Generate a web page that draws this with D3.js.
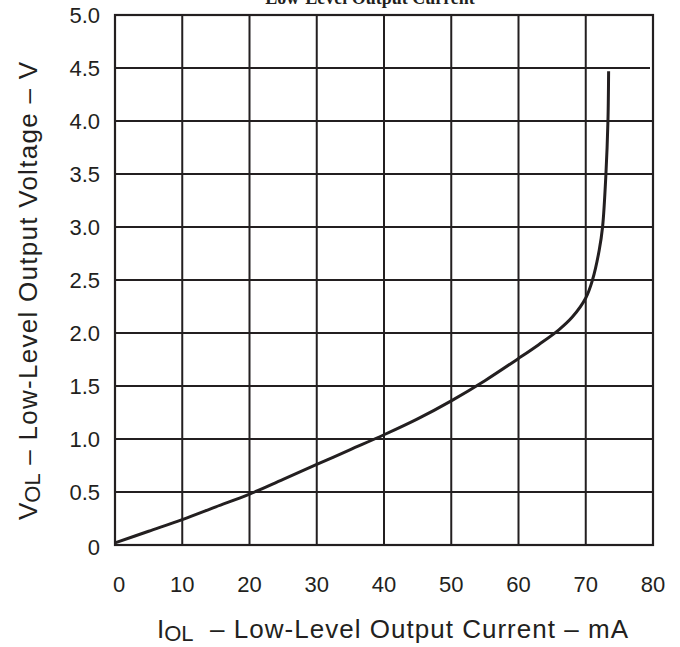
<!DOCTYPE html>
<html>
<head>
<meta charset="utf-8">
<script src="https://cdn.jsdelivr.net/npm/d3@7"></script>
<style>
    body { margin: 0; background: #fff; }
    text { fill: #231f20; }
</style>
</head>
<body>
<div class="chart"></div>
<script>
// I_OL in mA, V_OL in volts
var currentMA = [0, 5, 10, 15, 20, 25, 30, 35, 40, 45, 50, 55, 60, 63, 66, 68, 70, 71, 72, 72.5, 73, 73.3, 73.4];
var voltageV = [0.02, 0.13, 0.24, 0.36, 0.48, 0.62, 0.76, 0.9, 1.04, 1.19, 1.36, 1.55, 1.76, 1.89, 2.03, 2.15, 2.33, 2.5, 2.78, 3.0, 3.5, 4.0, 4.47];
var xTicks = [0, 10, 20, 30, 40, 50, 60, 70, 80];
var yTicks = [0, 0.5, 1.0, 1.5, 2.0, 2.5, 3.0, 3.5, 4.0, 4.5, 5.0];

(function() {
    var width = 680, height = 647;
    var ink = "#231f20";
    var sans = "'Liberation Sans', Arial, sans-serif";

    var svg = d3.select(".chart").append("svg")
        .attr("width", width)
        .attr("height", height);

    var x = d3.scaleLinear().domain([0, 80]).range([115, 653]);
    var y = d3.scaleLinear().domain([0, 5]).range([545, 15]);

    // title, mostly cut off at the top (as in the reference)
    svg.append("text")
        .attr("x", 370)
        .attr("y", 4)
        .attr("text-anchor", "middle")
        .style("font-family", "'Liberation Serif', serif")
        .style("font-weight", "bold")
        .style("font-size", "18px")
        .text("Low-Level Output Current");

    var grid = svg.append("g").classed("grid", true);

    grid.selectAll(".vline")
        .data(xTicks)
        .enter()
        .append("line")
            .attr("x1", function(d) { return x(d); })
            .attr("x2", function(d) { return x(d); })
            .attr("y1", y(0))
            .attr("y2", y(5))
            .style("stroke", ink)
            .style("stroke-width", 2);

    grid.selectAll(".hline")
        .data(yTicks)
        .enter()
        .append("line")
            .attr("x1", x(0))
            .attr("x2", function(d) { return d === 4.5 ? x(80) - 3 : x(80); })
            .attr("y1", function(d) { return y(d); })
            .attr("y2", function(d) { return y(d); })
            .style("stroke", ink)
            .style("stroke-width", 2);

    grid.append("rect")
        .attr("x", x(0))
        .attr("y", y(5))
        .attr("width", x(80) - x(0))
        .attr("height", y(0) - y(5))
        .style("fill", "none")
        .style("stroke", ink)
        .style("stroke-width", 2.2);

    // tick labels
    svg.append("g")
        .selectAll("text")
        .data(xTicks)
        .enter()
        .append("text")
            .attr("x", function(d) { return d === 0 ? x(d) + 4 : x(d); })
            .attr("y", 592)
            .attr("text-anchor", "middle")
            .style("font-family", sans)
            .style("font-size", "22px")
            .text(function(d) { return d; });

    svg.append("g")
        .selectAll("text")
        .data(yTicks)
        .enter()
        .append("text")
            .attr("x", 100)
            .attr("y", function(d) { return y(d) + (d === 0 ? 10 : 8); })
            .attr("text-anchor", "end")
            .style("font-family", sans)
            .style("font-size", "22px")
            .text(function(d) { return d === 0 ? "0" : d.toFixed(1); });

    // the curve
    var points = currentMA.map(function(c, i) { return [c, voltageV[i]]; });
    var line = d3.line()
        .x(function(d) { return x(d[0]); })
        .y(function(d) { return y(d[1]); })
        .curve(d3.curveCatmullRom.alpha(0.5));

    svg.append("path")
        .datum(points)
        .attr("d", line)
        .style("fill", "none")
        .style("stroke", ink)
        .style("stroke-width", 3);

    // axis labels: stretch the tail so the whole label spans what the reference spans
    function axisLabel(g, main, tail, target) {
        var t = g.append("text")
            .attr("xml:space", "preserve")
            .style("font-family", sans)
            .style("font-size", "26px");
        t.append("tspan").text(main);
        t.append("tspan").attr("dy", 3).style("font-size", "22px").text("OL");
        var rest = t.append("tspan").attr("dy", -3).text(tail);
        var total = t.node().getComputedTextLength();
        var restLen = rest.node().getComputedTextLength();
        rest.attr("textLength", restLen + (target - total)).attr("lengthAdjust", "spacing");
        return t;
    }

    axisLabel(svg.append("g").attr("transform", "translate(157, 638)"),
        "I", "  \u2013 Low-Level Output Current \u2013 mA", 471);

    axisLabel(svg.append("g").attr("transform", "translate(37, 520) rotate(-90)"),
        "V", " \u2013 Low-Level Output Voltage \u2013 V", 458);
})();
</script>
</body>
</html>
